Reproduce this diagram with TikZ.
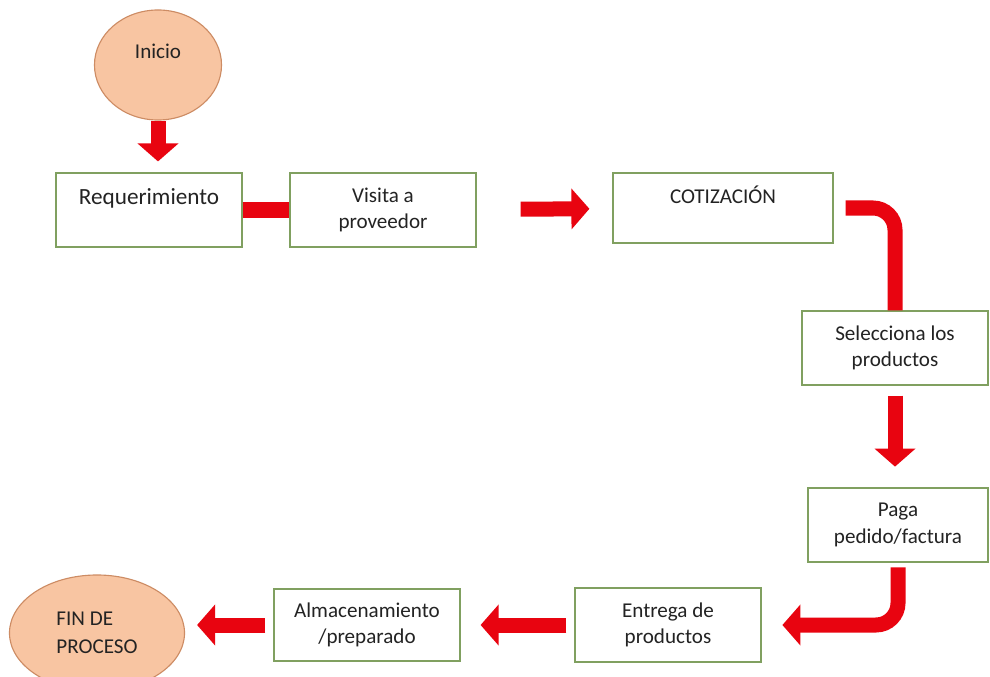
\documentclass[tikz,border=0pt]{standalone}
\usepackage{fontspec}
\setmainfont{Carlito}
\usetikzlibrary{arrows.meta, shapes.geometric}
\definecolor{rojoflecha}{RGB}{232,4,16}
\definecolor{verdecaja}{RGB}{128,160,96}
\definecolor{salmon}{RGB}{248,197,162}
\definecolor{salmonborde}{RGB}{205,140,100}
\definecolor{texto}{RGB}{35,35,35}

\begin{document}
\begin{tikzpicture}[
    x=0.025cm, y=-0.025cm,
    paso/.style={rectangle, draw=verdecaja, fill=white, line width=0.8pt,
                 minimum width=4.65cm, minimum height=1.85cm,
                 font=\fontsize{15}{18.6}\selectfont, text=texto,
                 align=center},
    terminal/.style={ellipse, draw=salmonborde, fill=salmon,
                     line width=0.8pt, inner sep=0pt,
                     font=\fontsize{15}{19.8}\selectfont, text=texto},
    flecha/.style={-{Triangle[width=1cm, length=0.45cm]},
                   line width=0.375cm, draw=rojoflecha},
    barra/.style={line width=0.375cm, draw=rojoflecha}
  ]
  \clip (0,0) rectangle (990,676);
  \fill[white] (0,0) rectangle (990,676);

  % inicio y fin
  \node[terminal, minimum width=3.175cm, minimum height=2.75cm,
        align=center] (inicio) at (158,65) {Inicio\\\mbox{}};
  \node[terminal, minimum width=4.375cm, minimum height=2.9cm,
        align=left] (fin) at (97,633) {FIN DE\\PROCESO};

  % pasos
  \node[paso, font=\fontsize{16.5}{18.6}\selectfont] (req) at (149,210)
    {Requerimiento\\\mbox{}};
  \node[paso] (visita) at (383,210) {Visita a\\proveedor};
  \node[paso, minimum width=5.5cm, minimum height=1.75cm] (cotiz)
    at (723,208) {COTIZACIÓN\\\mbox{}};
  \node[paso] (selec) at (895,348) {Selecciona los\\productos};
  \node[paso, minimum width=4.5cm] (paga) at (898,525)
    {Paga\\pedido/factura};
  \node[paso] (entrega) at (668,625) {Entrega de\\productos};
  \node[paso, minimum height=1.8cm] (almac) at (367,625)
    {Almacenamiento\\/preparado};

  % flechas
  \draw[flecha, shorten >=0.275cm] (inicio.south) -- (inicio.south |- req.north);
  \draw[barra] (req.east) -- (visita.west);
  \draw[flecha, shorten <=1.1cm, shorten >=0.575cm] (visita) -- (cotiz);
  \draw[barra, rounded corners=0.55cm, shorten <=0.3cm]
    (cotiz.east) -| (selec.north);
  \draw[flecha, shorten <=0.25cm, shorten >=0.52cm]
    (selec.south) -- (selec.south |- paga.north);
  \draw[flecha, rounded corners=0.55cm, shorten <=0.12cm, shorten >=0.52cm]
    (paga.south) |- (entrega.east);
  \draw[flecha, shorten <=0.2cm, shorten >=0.5cm]
    (entrega.west) -- (entrega.west -| almac.east);
  \draw[flecha, shorten <=0.2cm, shorten >=0.3cm]
    (almac.west) -- (almac.west -| fin.east);
\end{tikzpicture}
\end{document}
